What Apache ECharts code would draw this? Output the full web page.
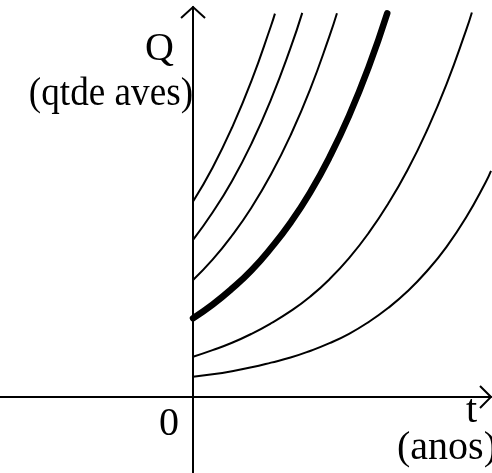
<!DOCTYPE html>
<html>
<head>
<meta charset="utf-8">
<script src="https://cdn.jsdelivr.net/npm/echarts@6/dist/echarts.min.js"></script>
<style>
  html, body { margin: 0; padding: 0; background: #fff; }
  #chart { width: 492px; height: 473px; }
</style>
</head>
<body>
<div id="chart"></div>
<script>
// Time samples (anos) shared by the curves, in steps of half a year.
const tSteps = [0, 0.5, 1, 1.5, 2, 2.5, 3, 3.5, 4, 4.5, 5, 5.5, 6, 6.5, 7, 7.5];

// Flock size Q for each initial population; the last pair is where the curve leaves the frame.
const qStart5 = [5.01, 5.88, 6.91, 8.11, 9.52];
const qStart5End = [2.1, 9.83];
const qStart4 = [4.03, 4.73, 5.54, 6.50, 7.63, 8.95];
const qStart4End = [2.8, 9.85];
const qStart3 = [3.0, 3.52, 4.14, 4.86, 5.71, 6.71, 7.88, 9.26];
const qStart3End = [3.69, 9.84];
const qStart2 = [2.02, 2.37, 2.78, 3.25, 3.82, 4.47, 5.24, 6.15, 7.21, 8.45];
const qStart2End = [4.98, 9.84];
const qStart1 = [1.03, 1.20, 1.39, 1.62, 1.89, 2.20, 2.57, 3.02, 3.56, 4.20, 4.95, 5.82, 6.84, 8.02, 9.40];
const qStart1End = [7.15, 9.86];
const qStartHalf = [0.52, 0.58, 0.66, 0.76, 0.88, 1.01, 1.18, 1.38, 1.62, 1.92, 2.28, 2.71, 3.23, 3.85, 4.60, 5.50];
const qStartHalfEnd = [7.64, 5.80];

// Axis ranges (no tick labels are drawn)
const tRange = [-4.95, 7.64];
const qRange = [-1.95, 10];

// Text labels
const yAxisName = 'Q';
const yAxisUnit = '(qtde aves)';
const xAxisName = 't';
const xAxisUnit = '(anos)';
const originLabel = '0';

function pairs(values, end) {
  const out = values.map((q, i) => [tSteps[i], q]);
  out.push(end);
  return out;
}

const chart = echarts.init(document.getElementById('chart'), null, { renderer: 'canvas' });

const thin = { color: '#000', width: 2 };
const thick = { color: '#000', width: 6.5, cap: 'round' };

function curve(data, style) {
  return {
    type: 'line',
    data: data,
    showSymbol: false,
    smooth: 0.5,
    lineStyle: style,
    itemStyle: { color: '#000' },
    animation: false,
    silent: true
  };
}

const serif = '"Liberation Serif", "Times New Roman", serif';
function label(text, x, y, align, extra) {
  return Object.assign({
    type: 'text',
    x: x,
    y: y,
    style: {
      text: text,
      font: '40px ' + serif,
      fill: '#000',
      align: align || 'left',
      verticalAlign: 'top'
    },
    z: 100
  }, extra || {});
}

chart.setOption({
  backgroundColor: '#fff',
  animation: false,
  grid: { left: 0, right: 1, top: 7, bottom: 0, containLabel: false },
  xAxis: {
    type: 'value',
    min: tRange[0],
    max: tRange[1],
    axisLine: { onZero: true, lineStyle: { color: '#000', width: 2 } },
    axisTick: { show: false },
    axisLabel: { show: false },
    splitLine: { show: false }
  },
  yAxis: {
    type: 'value',
    min: qRange[0],
    max: qRange[1],
    axisLine: { onZero: true, lineStyle: { color: '#000', width: 2 } },
    axisTick: { show: false },
    axisLabel: { show: false },
    splitLine: { show: false }
  },
  series: [
    curve(pairs(qStart5, qStart5End), thin),
    curve(pairs(qStart4, qStart4End), thin),
    curve(pairs(qStart3, qStart3End), thin),
    curve(pairs(qStart2, qStart2End), thick),
    curve(pairs(qStart1, qStart1End), thin),
    curve(pairs(qStartHalf, qStartHalfEnd), thin)
  ]
});

// Arrow heads and labels placed from the axis scales
const origin = chart.convertToPixel({ gridIndex: 0 }, [0, 0]);
const yTip = chart.convertToPixel({ gridIndex: 0 }, [0, qRange[1]]);
const xTip = chart.convertToPixel({ gridIndex: 0 }, [tRange[1], 0]);

chart.setOption({
  graphic: [
    {
      type: 'polyline',
      shape: { points: [[yTip[0] - 12, yTip[1] + 11], [yTip[0], yTip[1]], [yTip[0] + 12, yTip[1] + 11]] },
      style: { stroke: '#000', lineWidth: 2, fill: null },
      z: 100
    },
    {
      type: 'polyline',
      shape: { points: [[xTip[0] - 11, xTip[1] - 11], [xTip[0], xTip[1]], [xTip[0] - 11, xTip[1] + 11]] },
      style: { stroke: '#000', lineWidth: 2, fill: null },
      z: 100
    },
    label(yAxisName, origin[0] - 48, 29.5),
    label(yAxisUnit, origin[0], 74.5, 'right', { scaleX: 0.93, originX: 0, originY: 0 }),
    label(originLabel, origin[0] - 34, origin[1] + 7.5),
    label(xAxisName, xTip[0] - 25, origin[1] - 5.5),
    label(xAxisUnit, xTip[0] - 94, origin[1] + 31.5)
  ]
});
</script>
</body>
</html>
